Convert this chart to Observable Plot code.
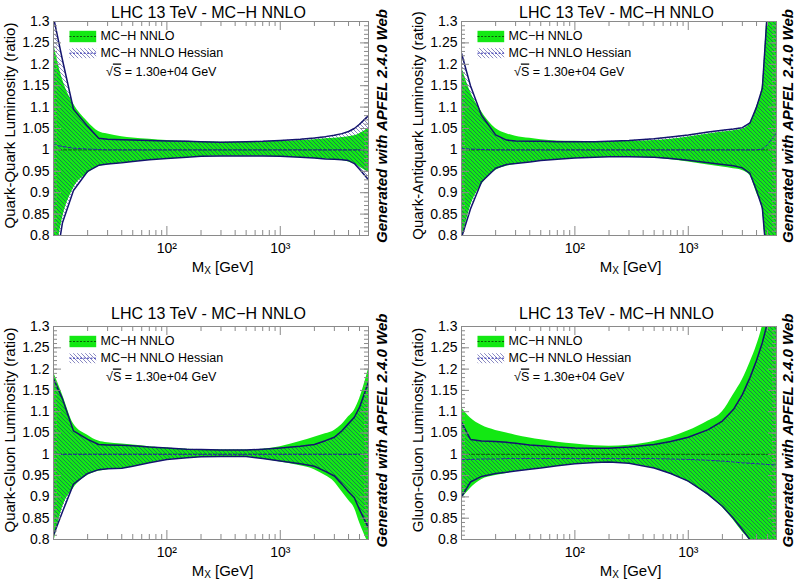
<!DOCTYPE html>
<html>
<head>
<meta charset="utf-8">
<script src="https://cdn.jsdelivr.net/npm/d3@7"></script>
<script src="https://cdn.jsdelivr.net/npm/@observablehq/plot@0.6"></script>
<style>
  html, body { margin: 0; padding: 0; background: #fff; }
  #chart { position: relative; width: 798px; height: 584px; overflow: hidden; }
  #chart svg { position: absolute; }
</style>
</head>
<body>
<div id="chart"></div>
<script>
// ---- data -----------------------------------------------------------
const massGrid = [10, 12, 15, 20, 25, 30, 40, 50, 70, 100, 150, 200, 300, 500, 700, 1000, 1500, 2000, 2500, 3000, 3500, 4000, 4500, 5000, 6000];

const panelTitle = "LHC 13 TeV - MC\u2212H NNLO";
const xTitleMain = "M";
const xTitleSub = "X";
const xTitleUnit = " [GeV]";
const sideText = "Generated with APFEL 2.4.0 Web";
const legendLabels = ["MC\u2212H NNLO", "MC\u2212H NNLO Hessian"];
const sqrtsLabel = " = 1.30e+04 GeV";

const yLabels = [
  "Quark-Quark Luminosity (ratio)",
  "Quark-Antiquark Luminosity (ratio)",
  "Quark-Gluon Luminosity (ratio)",
  "Gluon-Gluon Luminosity (ratio)"
];

// Quark-Quark
const qqMcUp = [1.25, 1.165, 1.108, 1.066, 1.043, 1.037, 1.031, 1.028, 1.025, 1.022, 1.02, 1.019, 1.018, 1.018, 1.019, 1.02, 1.022, 1.024, 1.026, 1.027, 1.029, 1.031, 1.033, 1.038, 1.05];
const qqMcLo = [0.72, 0.84, 0.91, 0.945, 0.961, 0.965, 0.969, 0.972, 0.976, 0.979, 0.982, 0.984, 0.985, 0.985, 0.985, 0.984, 0.982, 0.98, 0.978, 0.977, 0.975, 0.972, 0.968, 0.96, 0.948];
const qqHsUp = [1.31, 1.21, 1.095, 1.055, 1.027, 1.025, 1.024, 1.023, 1.022, 1.021, 1.02, 1.019, 1.018, 1.019, 1.02, 1.022, 1.025, 1.028, 1.031, 1.034, 1.038, 1.043, 1.05, 1.06, 1.08];
const qqHsLo = [0.70, 0.83, 0.905, 0.95, 0.964, 0.967, 0.97, 0.973, 0.977, 0.98, 0.983, 0.985, 0.986, 0.986, 0.986, 0.985, 0.983, 0.981, 0.979, 0.978, 0.977, 0.975, 0.968, 0.955, 0.93];
const qqHsCen = [1.012, 1.008, 1.004, 1.002, 1.001, 1.0, 1.0, 1.0, 1.0, 1.0, 1.0, 1.0, 1.0, 1.0, 1.0, 1.0, 1.0, 1.0, 1.0, 1.0, 1.0, 1.0, 1.0, 1.0, 1.0];

// Quark-Antiquark
const qaMcUp = [1.195, 1.135, 1.09, 1.05, 1.038, 1.032, 1.027, 1.024, 1.021, 1.02, 1.019, 1.019, 1.02, 1.022, 1.025, 1.03, 1.037, 1.042, 1.045, 1.048, 1.062, 1.1, 1.15, 1.34, 1.7];
const qaMcLo = [0.785, 0.868, 0.918, 0.952, 0.962, 0.966, 0.971, 0.974, 0.977, 0.98, 0.982, 0.983, 0.983, 0.981, 0.977, 0.972, 0.965, 0.96, 0.956, 0.952, 0.94, 0.9, 0.86, 0.7, 0.4];
const qaHsUp = [1.226, 1.15, 1.081, 1.035, 1.023, 1.021, 1.02, 1.02, 1.019, 1.019, 1.019, 1.02, 1.022, 1.026, 1.03, 1.035, 1.042, 1.046, 1.049, 1.052, 1.063, 1.1, 1.144, 1.33, 1.65];
const qaHsLo = [0.795, 0.862, 0.925, 0.957, 0.966, 0.968, 0.972, 0.975, 0.978, 0.981, 0.983, 0.984, 0.984, 0.983, 0.98, 0.976, 0.97, 0.966, 0.963, 0.958, 0.945, 0.905, 0.865, 0.72, 0.45];
const qaHsCen = [1.003, 1.002, 1.001, 1.0, 1.0, 1.0, 1.0, 1.0, 1.0, 1.0, 1.0, 1.0, 1.0, 1.0, 1.0, 1.0, 1.0, 1.0, 1.0, 1.0, 1.0, 1.0, 1.002, 1.012, 1.04];

// Quark-Gluon
const qgMcUp = [1.193, 1.14, 1.072, 1.045, 1.031, 1.027, 1.024, 1.022, 1.018, 1.015, 1.012, 1.011, 1.01, 1.01, 1.012, 1.018, 1.03, 1.04, 1.048, 1.056, 1.07, 1.088, 1.103, 1.13, 1.2];
const qgMcLo = [0.79, 0.875, 0.92, 0.95, 0.96, 0.964, 0.966, 0.971, 0.979, 0.987, 0.991, 0.993, 0.995, 0.994, 0.989, 0.982, 0.973, 0.964, 0.95, 0.935, 0.912, 0.892, 0.874, 0.84, 0.79];
const qgHsUp = [1.177, 1.13, 1.055, 1.035, 1.023, 1.022, 1.021, 1.02, 1.017, 1.015, 1.012, 1.011, 1.01, 1.01, 1.012, 1.015, 1.019, 1.023, 1.032, 1.04, 1.055, 1.072, 1.087, 1.11, 1.17];
const qgHsLo = [0.81, 0.865, 0.93, 0.955, 0.964, 0.966, 0.967, 0.972, 0.98, 0.988, 0.992, 0.994, 0.995, 0.995, 0.99, 0.984, 0.978, 0.972, 0.96, 0.949, 0.93, 0.912, 0.898, 0.87, 0.827];
const qgHsCen = [1.0, 1.0, 1.0, 1.0, 1.0, 1.0, 1.0, 1.0, 1.0, 1.0, 1.0, 1.0, 1.0, 1.0, 1.0, 1.0, 1.0, 1.0, 1.0, 1.0, 1.0, 1.0, 1.0, 1.0, 1.0];

// Gluon-Gluon
const ggMcUp = [1.11, 1.085, 1.068, 1.056, 1.05, 1.045, 1.038, 1.034, 1.028, 1.024, 1.02, 1.019, 1.021, 1.03, 1.04, 1.055, 1.078, 1.1, 1.14, 1.175, 1.215, 1.255, 1.3, 1.36, 1.5];
const ggMcLo = [0.895, 0.92, 0.94, 0.95, 0.955, 0.96, 0.964, 0.967, 0.972, 0.977, 0.98, 0.981, 0.978, 0.967, 0.953, 0.935, 0.903, 0.875, 0.846, 0.818, 0.795, 0.755, 0.71, 0.66, 0.54];
const ggHsUp = [1.075, 1.035, 1.031, 1.03, 1.028, 1.026, 1.022, 1.02, 1.017, 1.015, 1.014, 1.014, 1.017, 1.023, 1.03, 1.04, 1.058, 1.078, 1.105, 1.14, 1.18, 1.22, 1.262, 1.31, 1.45];
const ggHsLo = [0.9, 0.935, 0.948, 0.955, 0.958, 0.961, 0.965, 0.968, 0.973, 0.978, 0.981, 0.982, 0.979, 0.968, 0.955, 0.937, 0.906, 0.878, 0.85, 0.823, 0.8, 0.76, 0.72, 0.67, 0.55];
const ggHsCen = [0.988, 0.988, 0.989, 0.989, 0.99, 0.99, 0.99, 0.99, 0.99, 0.99, 0.99, 0.99, 0.99, 0.99, 0.989, 0.988, 0.986, 0.984, 0.982, 0.98, 0.979, 0.978, 0.977, 0.976, 0.975];

const mcCentral = massGrid.map(() => 1.0);

// axis ticks
const xMajorTicks = [100, 1000];
const xMajorLabels = ["10\u00b2", "10\u00b3"];
const xMinorTicks = [20, 30, 40, 50, 60, 70, 80, 90, 200, 300, 400, 500, 600, 700, 800, 900, 2000, 3000, 4000, 5000, 6000];
const yMajorTicks = [0.8, 0.85, 0.9, 0.95, 1.0, 1.05, 1.1, 1.15, 1.2, 1.25, 1.3];
const yMinorTicks = d3.range(80, 131).map(v => v / 100);

// ---- style ----------------------------------------------------------
const GREEN = "#13e813";
const DKGREEN = "#0a5a0a";
const NAVY = "#14146e";
const HATCH = "#1f1f8c";
const FRAME = "#8a8a8a";
const FONT = "'Liberation Sans', Arial, Helvetica, sans-serif";

const panels = [
  {id: 0, left: 0,   top: 0,   mL: 53, mR: 31, mT: 21, mB: 57, mcUp: qqMcUp, mcLo: qqMcLo, hsUp: qqHsUp, hsLo: qqHsLo, hsCen: qqHsCen, titleDy: -9, ylab: yLabels[0]},
  {id: 1, left: 399, top: 0,   mL: 62, mR: 22, mT: 21, mB: 57, mcUp: qaMcUp, mcLo: qaMcLo, hsUp: qaHsUp, hsLo: qaHsLo, hsCen: qaHsCen, titleDy: -9, ylab: yLabels[1]},
  {id: 2, left: 0,   top: 292, mL: 53, mR: 31, mT: 34, mB: 45, mcUp: qgMcUp, mcLo: qgMcLo, hsUp: qgHsUp, hsLo: qgHsLo, hsCen: qgHsCen, titleDy: -13, ylab: yLabels[2]},
  {id: 3, left: 399, top: 292, mL: 62, mR: 22, mT: 34, mB: 45, mcUp: ggMcUp, mcLo: ggMcLo, hsUp: ggHsUp, hsLo: ggHsLo, hsCen: ggHsCen, titleDy: -13, ylab: yLabels[3]}
];

const W = 399, H = 292;
const container = document.getElementById("chart");

for (const p of panels) {
  const innerW = W - p.mL - p.mR;
  const innerH = H - p.mT - p.mB;
  const hatchId = "hatch" + p.id;
  const rows = massGrid.map((m, i) => ({
    m, mcUp: p.mcUp[i], mcLo: p.mcLo[i], mcCen: mcCentral[i],
    hsUp: p.hsUp[i], hsLo: p.hsLo[i], hsCen: p.hsCen[i]
  }));

  const svg = Plot.plot({
    width: W, height: H,
    marginLeft: p.mL, marginRight: p.mR, marginTop: p.mT, marginBottom: p.mB,
    x: {type: "log", domain: [10, 6000]},
    y: {domain: [0.8, 1.3]},
    style: {fontFamily: FONT, fontSize: "14px", color: "#000", background: "transparent", overflow: "visible"},
    marks: [
      Plot.areaY(rows, {x: "m", y1: "mcLo", y2: "mcUp", fill: GREEN, curve: "monotone-x", clip: true}),
      Plot.areaY(rows, {x: "m", y1: "hsLo", y2: "hsUp", fill: `url(#${hatchId})`, clip: true}),
      Plot.line(rows, {x: "m", y: "mcCen", stroke: DKGREEN, strokeWidth: 1, strokeDasharray: "3,2", clip: true}),
      Plot.line(rows, {x: "m", y: "hsCen", stroke: "#2a2ab0", strokeWidth: 1, strokeDasharray: "3,2", clip: true}),
      Plot.line(rows, {x: "m", y: "hsUp", stroke: NAVY, strokeWidth: 1.5, clip: true}),
      Plot.line(rows, {x: "m", y: "hsLo", stroke: NAVY, strokeWidth: 1.5, clip: true}),
      Plot.frame({stroke: FRAME, strokeWidth: 1}),
      // inward ticks, bottom/top
      Plot.tickX(xMinorTicks, {x: d => d, insetTop: innerH - 5, stroke: FRAME}),
      Plot.tickX(xMinorTicks, {x: d => d, insetBottom: innerH - 5, stroke: FRAME}),
      Plot.tickX(xMajorTicks, {x: d => d, insetTop: innerH - 9, stroke: FRAME}),
      Plot.tickX(xMajorTicks, {x: d => d, insetBottom: innerH - 9, stroke: FRAME}),
      // inward ticks, left/right
      Plot.tickY(yMinorTicks, {y: d => d, insetRight: innerW - 4, stroke: FRAME}),
      Plot.tickY(yMinorTicks, {y: d => d, insetLeft: innerW - 4, stroke: FRAME}),
      Plot.tickY(yMajorTicks, {y: d => d, insetRight: innerW - 8, stroke: FRAME}),
      Plot.tickY(yMajorTicks, {y: d => d, insetLeft: innerW - 8, stroke: FRAME}),
      Plot.axisY({ticks: yMajorTicks, tickSize: 0, tickPadding: 4, label: null,
                  tickFormat: d => String(+d.toFixed(2))}),
      Plot.axisX({ticks: xMajorTicks, tickSize: 0, tickPadding: 8, label: null,
                  tickFormat: d => xMajorLabels[xMajorTicks.indexOf(d)]}),
      Plot.text([panelTitle], {text: d => d, frameAnchor: "top", dx: -2.5, dy: p.titleDy, textAnchor: "middle", lineAnchor: "middle", fontSize: 16}),
      Plot.text([p.ylab], {text: d => d, frameAnchor: "left", dx: -43.5, dy: -3, rotate: -90, textAnchor: "middle", lineAnchor: "middle", fontSize: 15}),
      Plot.text([sideText], {text: d => d, frameAnchor: "right", dx: p.id % 2 ? 11.5 : 13.5, dy: -2.5, rotate: -90, textAnchor: "middle", lineAnchor: "middle", fontSize: 15, fontWeight: "bold", fontStyle: "italic"})
    ]
  });

  svg.style.left = p.left + "px";
  svg.style.top = p.top + "px";
  const s = d3.select(svg);

  // hatch pattern
  const defs = s.insert("defs", ":first-child");
  const pat = defs.append("pattern").attr("id", hatchId).attr("patternUnits", "userSpaceOnUse")
    .attr("x", 0).attr("y", 0).attr("width", 4).attr("height", 4);
  pat.append("path").attr("d", "M-1,-1L5,5M-1,3L1,5M3,-1L5,1")
    .attr("stroke", HATCH).attr("stroke-width", 0.8).attr("stroke-opacity", 0.65).attr("fill", "none");

  // x axis title with subscript
  const xt = s.append("text")
    .attr("x", p.mL + innerW / 2 + 12).attr("y", p.mT + innerH + 31)
    .attr("text-anchor", "middle").attr("dominant-baseline", "central")
    .attr("font-family", FONT).attr("font-size", 15);
  xt.append("tspan").text(xTitleMain);
  xt.append("tspan").attr("font-size", 10).attr("dy", 4).text(xTitleSub);
  xt.append("tspan").attr("dy", -4).text(xTitleUnit);

  // legend
  const lx = p.mL + 16.5, ty = p.mT;
  const lg = s.append("g").attr("font-family", FONT).attr("font-size", 12.5).attr("text-anchor", "start");
  lg.append("rect").attr("x", lx).attr("y", ty + 9.8).attr("width", 26.7).attr("height", 11.4).attr("fill", GREEN);
  lg.append("line").attr("x1", lx).attr("x2", lx + 26.7).attr("y1", ty + 15.5).attr("y2", ty + 15.5)
    .attr("stroke", DKGREEN).attr("stroke-dasharray", "2,1.5");
  lg.append("text").attr("x", p.mL + 47.5).attr("y", ty + 14.5).attr("dominant-baseline", "central").text(legendLabels[0]);
  lg.append("rect").attr("x", lx).attr("y", ty + 27.2).attr("width", 26.7).attr("height", 10).attr("fill", `url(#${hatchId})`);
  lg.append("line").attr("x1", lx).attr("x2", lx + 26.7).attr("y1", ty + 32.2).attr("y2", ty + 32.2)
    .attr("stroke", "#2a2ab0").attr("stroke-dasharray", "2,1.5");
  lg.append("text").attr("x", p.mL + 47.5).attr("y", ty + 32).attr("dominant-baseline", "central").text(legendLabels[1]);
  const st = lg.append("text").attr("x", p.mL + 53).attr("y", ty + 50.5).attr("dominant-baseline", "central");
  st.append("tspan").text("\u221a");
  st.append("tspan").attr("text-decoration", "overline").text("S");
  st.append("tspan").text(sqrtsLabel);

  container.appendChild(svg);
}
</script>
</body>
</html>
